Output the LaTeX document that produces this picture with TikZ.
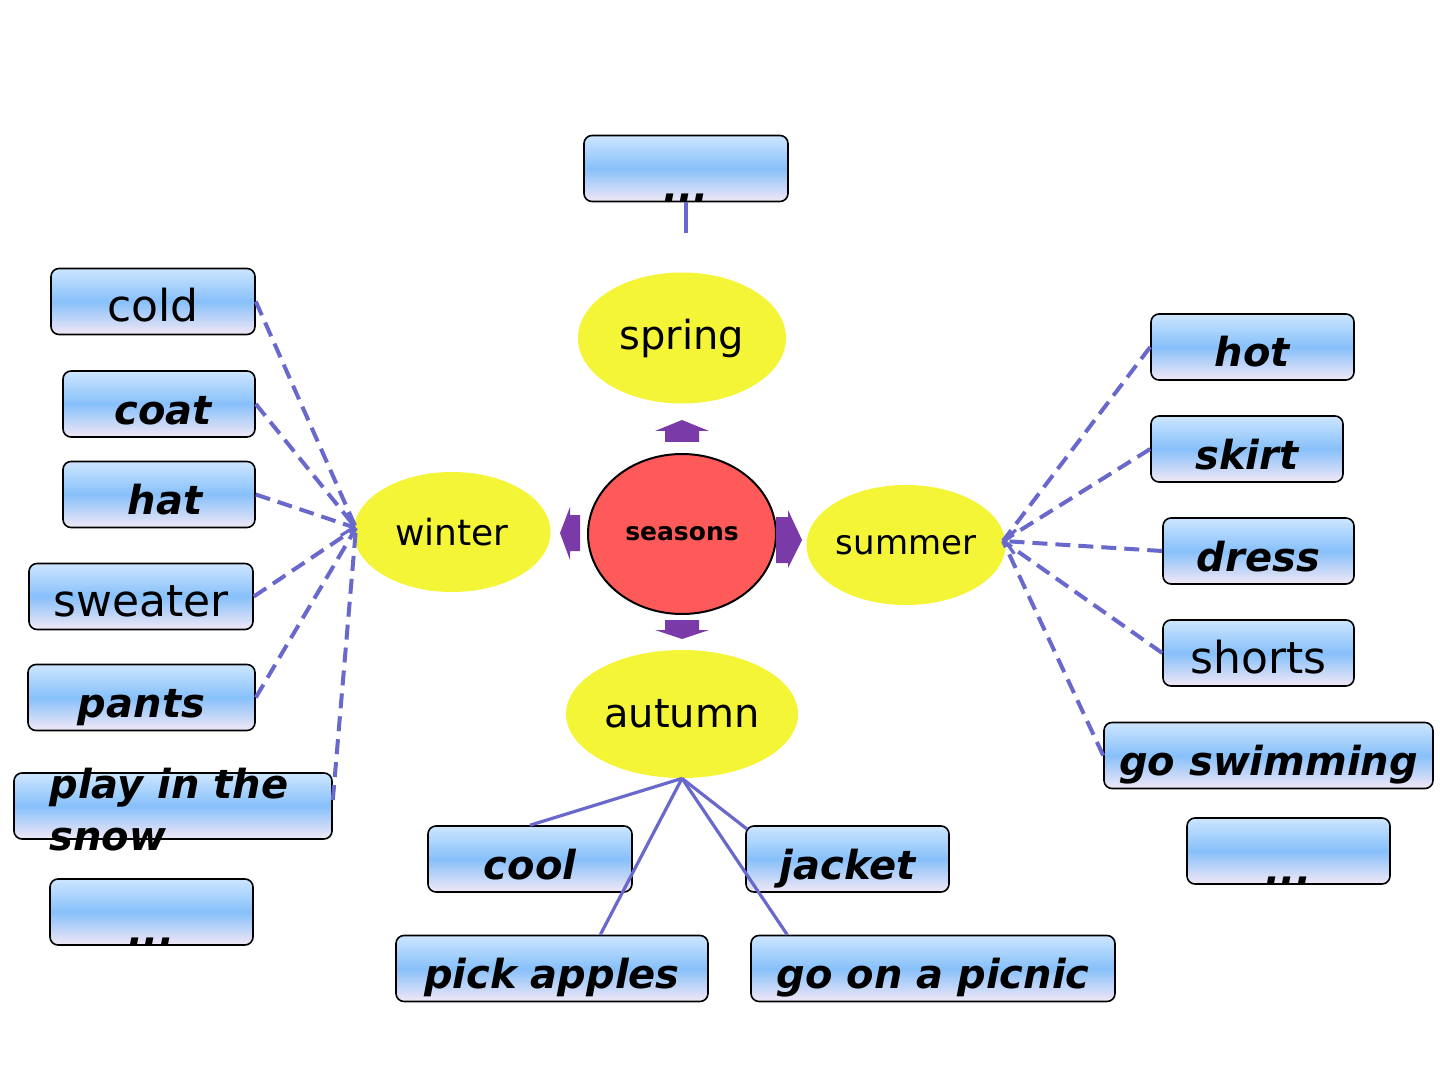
\documentclass[tikz,border=0pt]{standalone}
\usepackage{fontspec}
\setmainfont{DejaVu Sans}[BoldFont={DejaVu Sans Bold},ItalicFont={DejaVu Sans Oblique},BoldItalicFont={DejaVu Sans Bold Oblique}]
\usetikzlibrary{shapes.geometric,arrows.meta,calc}
\definecolor{yellowE}{RGB}{245,245,55}
\definecolor{redC}{RGB}{255,90,90}
\definecolor{purp}{RGB}{122,58,168}
\definecolor{lineB}{RGB}{105,105,205}
\definecolor{boxTop}{RGB}{205,230,255}
\definecolor{boxMid}{RGB}{135,192,250}
\definecolor{boxBot}{RGB}{242,232,246}
\tikzset{
  box/.style={draw=black, line width=0.8pt, rounded corners=4pt, top color=boxTop, bottom color=boxBot, middle color=boxMid, inner sep=0pt, minimum height=33pt, text height=22pt, text depth=2pt},
  reg/.style={font=\fontsize{22}{26}\selectfont},
  bi/.style={font=\fontsize{20}{26}\selectfont\bfseries\itshape},
  season/.style={ellipse, fill=yellowE, inner sep=0pt},
  dline/.style={draw=lineB, line width=2pt, dash pattern=on 7.5pt off 4pt},
  sline/.style={draw=lineB, line width=1.6pt},
  arrowshape/.style={fill=purp},
  barb/.style={-{Straight Barb[length=5pt,width=12pt,line width=1.6pt]}}
}
\begin{document}
\begin{tikzpicture}[x=0.5pt,y=-0.5pt]
\useasboundingbox (0,0) rectangle (1440,1080);
\fill[white] (0,0) rectangle (1440,1080);

% season ellipses
\node[season, minimum width=104pt, minimum height=65.5pt, font=\fontsize{20}{24}\selectfont] (spring) at (682,338) {spring};
\node[ellipse, fill=redC, draw=black, line width=1pt, inner sep=0pt, minimum width=94pt, minimum height=80pt, font=\fontsize{12.5}{14}\selectfont\bfseries] (seasons) at (682,534) {seasons};
\node[season, minimum width=98.5pt, minimum height=60pt, font=\fontsize{18}{20}\selectfont] (winter) at (452,532) {winter};
\node[season, minimum width=99.5pt, minimum height=60pt, font=\fontsize{17}{20}\selectfont] (summer) at (906,545) {summer};
\node[season, minimum width=116pt, minimum height=64pt, font=\fontsize{20}{24}\selectfont] (autumn) at (682,714) {autumn};

% purple arrows
\fill[arrowshape] (665,442) -- (665,431) -- (655,431) -- (682,420) -- (709,431) -- (699,431) -- (699,442) -- cycle;
\fill[arrowshape] (665,620) -- (699,620) -- (699,630) -- (709,630) -- (682,639) -- (655,630) -- (665,630) -- cycle;
\fill[arrowshape] (580,515) -- (580,551) -- (570,551) -- (570,560) -- (560,533) -- (570,507) -- (570,515) -- cycle;
\fill[arrowshape] (776,517) -- (788,517) -- (788,510) -- (802,540) -- (788,568) -- (788,563) -- (776,563) -- cycle;

% top box
\node[box, minimum width=102pt] (topdots) at (686,168.5) {};
\node[bi, anchor=base] (topdotst) at (686,202) {...};

% left boxes
\node[box, minimum width=102pt, reg] (cold) at (153,301.5) {cold};
\node[box, minimum width=96pt, bi] (coat) at (159,404) {\hspace{4pt}coat};
\node[box, minimum width=96pt, bi] (hat) at (159,494.5) {\hspace{6pt}hat};
\node[box, minimum width=112pt, reg] (sweater) at (141,596.5) {sweater};
\node[box, minimum width=113.5pt, bi] (pants) at (141.5,697.5) {pants};
\node[box, minimum width=159pt] (snow) at (173,806) {};
\node[bi, anchor=north west, align=left, inner sep=0pt] (snowt) at (49,768) {play in the\\snow};
\node[box, minimum width=101.5pt] (ldots) at (151.5,912) {};
\node[bi, anchor=base] (ldotst) at (151.5,945) {...};

% right boxes
\node[box, minimum width=101.5pt, bi] (hot) at (1252.5,347) {hot};
\node[box, minimum width=96pt, bi] (skirt) at (1247,449) {skirt};
\node[box, minimum width=95.5pt, bi] (dress) at (1258.5,551) {dress};
\node[box, minimum width=95.5pt, reg] (shorts) at (1258.5,653) {shorts};
\node[box, minimum width=164.5pt, bi] (swim) at (1268.5,755.5) {go swimming};
\node[box, minimum width=101.5pt] (rdots) at (1288.5,851) {};
\node[bi, anchor=base] (rdotst) at (1288.5,884) {...};

% bottom boxes
\node[box, minimum width=102pt, bi] (cool) at (530,859) {cool};
\node[box, minimum width=101.5pt, bi] (jacket) at (847.5,859) {jacket};
\node[box, minimum width=156pt, bi] (apples) at (552,968.5) {pick apples};
\node[box, minimum width=182pt, bi] (picnic) at (933,968.5) {go on a picnic};

% convergence points
\coordinate (W) at (356,528);
\coordinate (S) at (1003,541);
\coordinate (topend) at (686,233);

% winter connectors
\draw[dline] (cold.east) -- (W);
\draw[dline] (coat.east) -- (W);
\draw[dline, barb] (hat.east) -- (W);
\draw[dline] (sweater.east) -- (W);
\draw[dline] (pants.east) -- (W);
\draw[dline] ($(snow.east)+(0,-6)$) -- (W);

% summer connectors
\draw[dline] (hot.west) -- (S);
\draw[dline] (skirt.west) -- (S);
\draw[dline, barb] (dress.west) -- (S);
\draw[dline] (shorts.west) -- (S);
\draw[dline] (swim.west) -- (S);

% autumn connectors
\draw[sline] (autumn.south) -- (cool.north);
\draw[sline] (autumn.south) -- ($(apples.north west)!0.654!(apples.north east)$);
\draw[sline] (autumn.south) -- ($(jacket.north west)+(2,4)$);
\draw[sline] (autumn.south) -- ($(picnic.north west)+(37,0)$);

% top connector
\draw[sline] (topdots.south) -- (topend);
\end{tikzpicture}
\end{document}
